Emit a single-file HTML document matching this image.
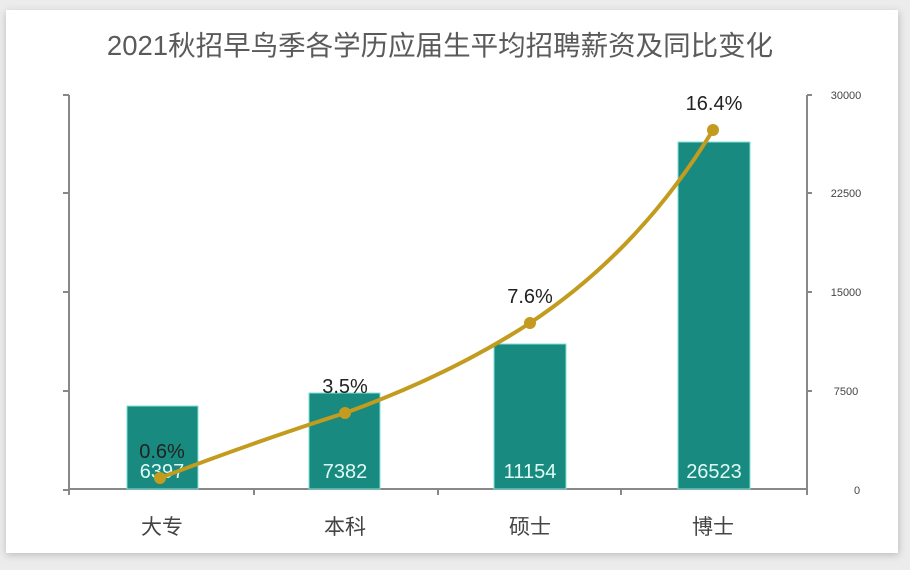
<!DOCTYPE html>
<html><head><meta charset="utf-8"><style>
body{margin:0;width:910px;height:570px;background:#ececec;overflow:hidden}
</style></head><body>
<svg width="910" height="570" xmlns="http://www.w3.org/2000/svg" style="position:absolute;left:0;top:0">
<defs><filter id="sh" x="-5%" y="-5%" width="110%" height="110%"><feGaussianBlur stdDeviation="4"/></filter></defs>
<rect x="6" y="12" width="893" height="543" fill="#bbb" filter="url(#sh)"/>
<rect x="6" y="10" width="892" height="543" fill="#fff"/>
<text x="440" y="55" text-anchor="middle" font-family="Liberation Sans, Noto Sans CJK SC, sans-serif" font-size="27.5" fill="#5a5a5a">2021秋招早鸟季各学历应届生平均招聘薪资及同比变化</text>
<g stroke="#888" stroke-width="2" fill="none">
<path d="M69 95V490M63 95H69M63 193H69M63 292H69M63 391H69M63 490H69"/>
<path d="M807 95V490M807 95H812M807 193H812M807 292H812M807 391H812"/>
<path d="M69 489H807M69 489V495M254 489V495M438 489V495M621 489V495M807 489V495"/>
</g>
<g font-family="Liberation Sans, sans-serif" font-size="11" fill="#444" text-anchor="middle">
<text x="846" y="99">30000</text><text x="846" y="197">22500</text><text x="846" y="296">15000</text><text x="846" y="395">7500</text><text x="857" y="494">0</text>
</g>
<g fill="#198a80" stroke="#7fe0d8" stroke-width="1">
<rect x="127" y="406" width="71" height="83"/>
<rect x="309" y="393" width="71" height="96"/>
<rect x="494" y="344" width="72" height="145"/>
<rect x="678" y="142" width="72" height="347"/>
</g>
<g font-family="Liberation Sans, sans-serif" font-size="20" fill="#dffaf5" text-anchor="middle">
<text x="162" y="478">6397</text><text x="345" y="478">7382</text><text x="530" y="478">11154</text><text x="714" y="478">26523</text>
</g>
<path d="M160 478 Q260 440 345 413 Q450 375 530 323 Q640 250 713 130" fill="none" stroke="#c29b1f" stroke-width="4"/>
<g fill="#c29b1f"><circle cx="160" cy="478" r="6"/><circle cx="345" cy="413" r="6"/><circle cx="530" cy="323" r="6"/><circle cx="713" cy="130" r="6"/></g>
<g font-family="Liberation Sans, sans-serif" font-size="20" fill="#222" text-anchor="middle">
<text x="162" y="458">0.6%</text><text x="345" y="393">3.5%</text><text x="530" y="303">7.6%</text><text x="714" y="110">16.4%</text>
</g>
<g font-family="Liberation Sans, Noto Sans CJK SC, sans-serif" font-size="21" fill="#444" text-anchor="middle">
<text x="162" y="534">大专</text><text x="345" y="534">本科</text><text x="530" y="534">硕士</text><text x="713" y="534">博士</text>
</g>
</svg>
</body></html>
